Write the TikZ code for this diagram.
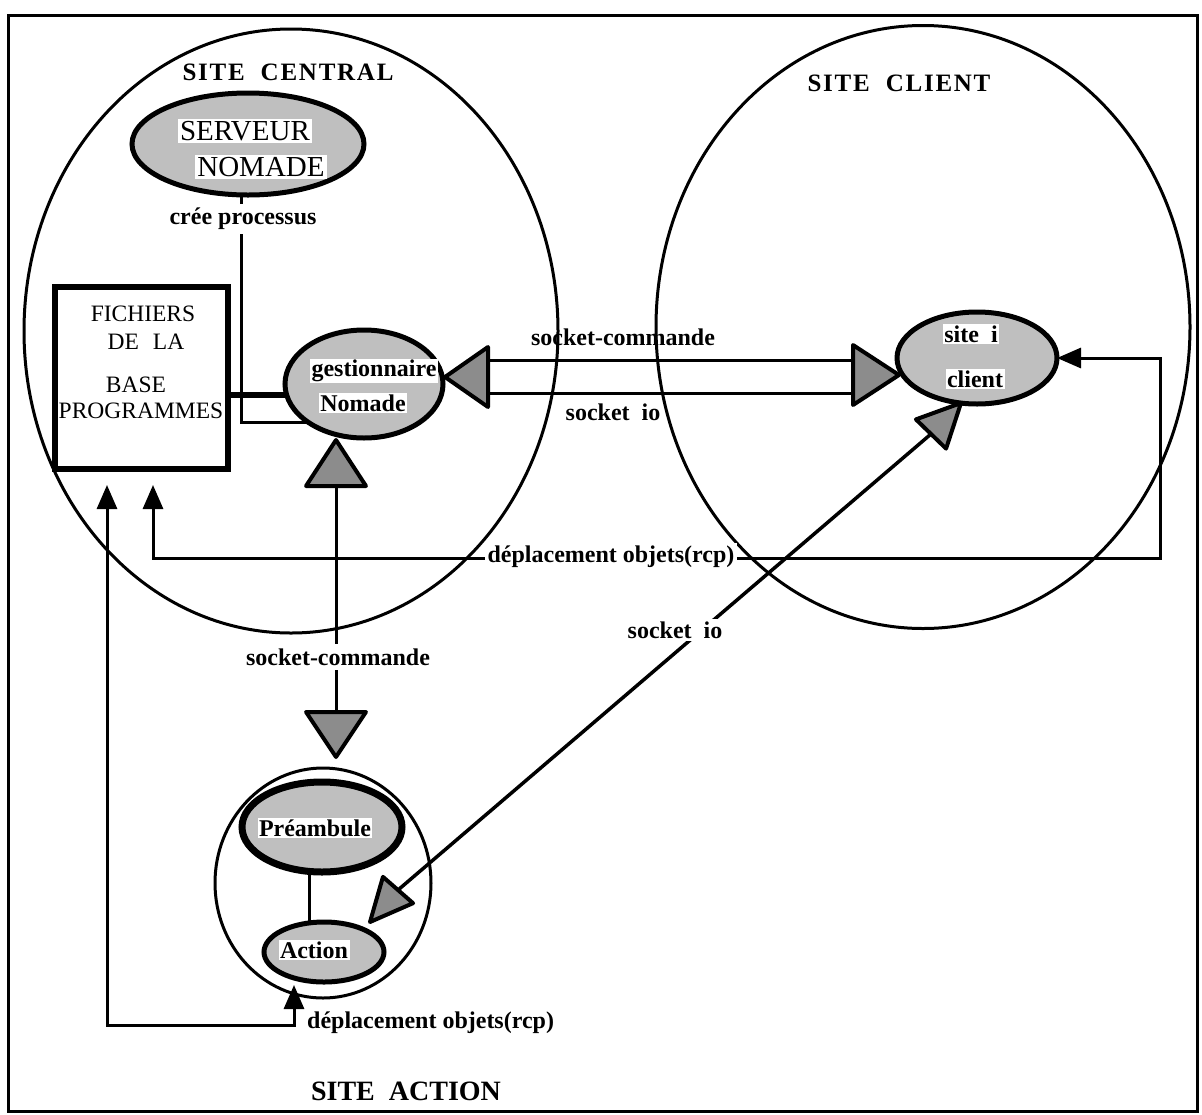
\documentclass[tikz,border=0pt]{standalone}
\usepackage{fontspec}
\setmainfont{Liberation Serif}
\usetikzlibrary{shapes.geometric,arrows.meta,calc}
\newcommand{\mytri}[3]{\draw[tri] (#1) -- ($(#2)!#3!90:(#1)$) -- ($(#2)!#3!-90:(#1)$) -- cycle;}
\begin{document}
\begin{tikzpicture}[x=1pt,y=-1pt,
  frame/.style={line width=3pt},
  site/.style={draw, ellipse, line width=3pt, inner sep=0pt, outer sep=0pt},
  proc/.style={draw, ellipse, line width=5pt, fill=black!25, inner sep=0pt, outer sep=0pt},
  txt/.style={fill=white, inner sep=1.5pt, font=\bfseries\fontsize{24}{26}\selectfont},
  big/.style={fill=white, inner sep=2pt, font=\fontsize{29}{31}\selectfont},
  boxtxt/.style={inner sep=0pt, font=\fontsize{23.5}{25}\selectfont},
  conn/.style={line width=3pt},
  arr/.style={line width=3pt, {Triangle[length=24pt,width=20pt]}-{Triangle[length=24pt,width=20pt]}},
  tri/.style={draw, line width=4pt, fill=black!45, line join=round},
  lbl/.style={font=\bfseries\fontsize{24}{26}\selectfont, inner sep=1pt},
  title/.style={font=\bfseries\fontsize{25}{27}\selectfont\addfontfeatures{LetterSpace=7}},
]
\useasboundingbox (0,0) rectangle (1202,1114);
\draw[frame] (8,15) rectangle (1197,1111);

% sites
\node[site, minimum width=534pt, minimum height=604pt] (central) at (291,331) {};
\node[site, minimum width=534pt, minimum height=603pt] (clientsite) at (923,327) {};
\node[site, minimum width=216pt, minimum height=230pt] (actionsite) at (323,883) {};

\node[title] (tcentral) at (288,72) {SITE\ \ CENTRAL};
\node[title] (tclient) at (899,83) {SITE\ \ CLIENT};
\node[font=\bfseries\fontsize{28}{30}\selectfont] (taction) at (406,1091) {SITE\ \ ACTION};

% files box
\node[draw, line width=6pt, minimum width=173pt, minimum height=182pt, inner sep=0pt, outer sep=0pt] (box) at (141.5,378) {};
\node[boxtxt] (f1) at (143,314) {FICHIERS};
\node[boxtxt] (f2) at (146,342) {DE\hspace{14pt}LA};
\node[boxtxt] (f3) at (136,385) {BASE};
\node[boxtxt] (f4) at (141,411) {PROGRAMMES};

% process ellipses
\node[proc, minimum width=232pt, minimum height=102pt] (serveur) at (248,144) {};
\node[proc, minimum width=158pt, minimum height=108pt] (gest) at (364,384) {};
\node[proc, minimum width=160pt, minimum height=92pt] (client) at (977,358) {};
\node[proc, line width=7pt, minimum width=160pt, minimum height=90pt] (pre) at (322,827) {};
\node[proc, minimum width=120pt, minimum height=60pt] (act) at (324,952) {};

% coordinates
\coordinate (creeX) at (241,0);
\coordinate (vx) at (309,0);
\coordinate (tLtip) at (445,377);
\coordinate (tLbase) at (488,377);
\coordinate (tRtip) at (899,375);
\coordinate (tRbase) at (853,375);
\coordinate (cmdL) at (488,360);
\coordinate (cmdR) at (853,360);
\coordinate (ioL) at (488,393);
\coordinate (ioR) at (853,393);
\coordinate (tUtip) at (336,440);
\coordinate (tUbase) at (336,486);
\coordinate (tDbase) at (336,712);
\coordinate (tDtip) at (336,757);
\coordinate (dUtip) at (961,403);
\coordinate (dUbase) at (931,434);
\coordinate (dLtip) at (370,922);
\coordinate (dLbase) at (398,890);
\coordinate (bin1) at (107,485);
\coordinate (bin2) at (153,485);
\coordinate (rcpR) at (1160,558);
\coordinate (rcpB) at (294,1025);
\coordinate (actin) at (294,985);

% connectors
\draw[conn] (serveur.south -| creeX) -- (creeX |- gest.215) -- (gest.215);
\draw[line width=5.5pt] (box.east |- gest.188) -- (gest.188);
\draw[conn] (pre.south -| vx) -- (act.north -| vx);
\draw[conn] (cmdL) -- (cmdR);
\draw[conn] (ioL) -- (ioR);
\draw[conn] (tUbase) -- (tDbase);
\draw[conn, line width=3.5pt] (dLbase) -- (dUbase);
\draw[arr] (bin2) |- (rcpR) |- (client.east);
\draw[arr] (bin1) |- (rcpB) -- (actin);

% triangles
\mytri{tLtip}{tLbase}{30pt}
\mytri{tRtip}{tRbase}{30pt}
\mytri{tUtip}{tUbase}{30pt}
\mytri{tDtip}{tDbase}{30pt}
\mytri{dUtip}{dUbase}{21pt}
\mytri{dLtip}{dLbase}{20pt}

% texts in ellipses
\node[big] (serveurA) at (245,131) {SERVEUR};
\node[big] (serveurB) at (261,167) {NOMADE};
\node[txt] (gestA) at (374,371) {gestionnaire};
\node[txt] (gestB) at (363,403) {Nomade};
\node[txt] (clientA) at (971,334) {site\ \ i};
\node[txt] (clientB) at (975,379) {client};
\node[txt] (preT) at (315,828) {Préambule};
\node[txt] (actT) at (314,950) {Action};

% labels
\node[lbl, fill=white, inner ysep=4pt] (cree) at (243,219) {crée processus};
\node[lbl] (lcmd1) at (623,337) {socket-commande};
\node[lbl] (lio1) at (613,412) {socket\ \ io};
\node[lbl, fill=white, inner ysep=5pt] (lcmd2) at (338,657) {socket-commande};
\node[lbl, fill=white, inner sep=3pt] (lio2) at (675,630) {socket\ \ io};
\node[lbl, fill=white, inner sep=3pt] (lrcp1) at (611,557) {déplacement objets(rcp)};
\node[lbl, anchor=west] (lrcp2) at (306,1023) {déplacement objets(rcp)};
\end{tikzpicture}
\end{document}
